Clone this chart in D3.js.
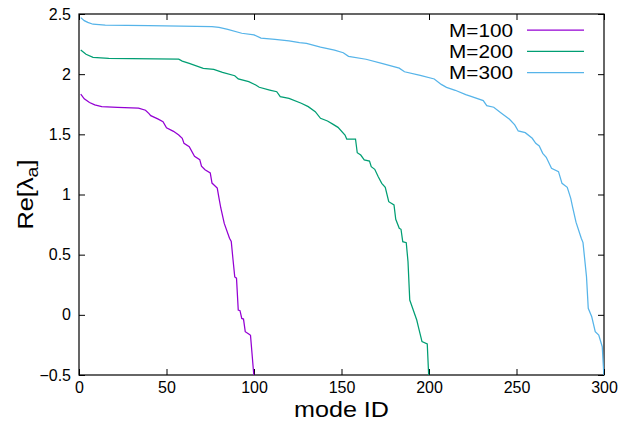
<!DOCTYPE html>
<html>
<head>
<meta charset="utf-8">
<script src="https://cdn.jsdelivr.net/npm/d3@7"></script>
<style>
  html, body { margin: 0; padding: 0; background: #fff; }
  svg { display: block; }
  text { font-family: "Liberation Sans", Arial, sans-serif; fill: #000; }
</style>
</head>
<body>
<svg id="chart" width="634" height="431"></svg>
<script>
// ---------- data (mode ID, Re[lambda_a]) ----------
const seriesNames = ["M=100", "M=200", "M=300"];
const seriesColors = ["#9400d3", "#009e73", "#56b4e9"];

const m100 = [
  [1,1.835],[3,1.795],[6,1.765],[9,1.745],[13,1.730],[22,1.724],[34,1.718],[38,1.700],
  [40,1.672],[41,1.655],[45,1.628],[48,1.605],[50,1.555],[54,1.525],[57,1.495],[59,1.467],
  [60,1.425],[63,1.398],[66,1.318],[69,1.290],[70,1.235],[72,1.206],[75,1.180],[76,1.095],
  [79,1.053],[80,0.970],[81,0.890],[83,0.760],[86,0.636],[87,0.610],[88,0.460],[89,0.315],
  [90,0.305],[91,0.040],[92,0.035],[93,-0.030],[94,-0.035],[95,-0.140],[97,-0.160],
  [98,-0.170],[100,-0.520]
];

const m200 = [
  [1,2.200],[4,2.165],[8,2.140],[17,2.132],[57,2.124],[59,2.109],[63,2.090],[71,2.049],
  [77,2.040],[82,2.015],[89,1.987],[91,1.960],[97,1.938],[101,1.910],[103,1.891],[109,1.868],
  [113,1.854],[115,1.813],[120,1.799],[127,1.758],[131,1.730],[135,1.688],[138,1.633],
  [142,1.611],[145,1.585],[148,1.558],[152,1.494],[153,1.461],[158,1.461],[159,1.347],
  [161,1.328],[163,1.287],[166,1.278],[167,1.231],[169,1.209],[171,1.148],[173,1.093],
  [175,1.060],[177,0.940],[180,0.913],[181,0.794],[183,0.719],[184,0.711],[185,0.608],
  [187,0.600],[188,0.442],[189,0.123],[190,0.082],[193,-0.043],[194,-0.104],[196,-0.223],
  [199,-0.242],[200,-0.560]
];

const m300 = [
  [1,2.470],[3,2.445],[5,2.430],[8,2.415],[15,2.408],[40,2.403],[76,2.395],[80,2.388],
  [85,2.373],[93,2.340],[100,2.327],[104,2.300],[112,2.290],[120,2.276],[126,2.262],
  [130,2.255],[138,2.225],[146,2.200],[151,2.178],[154,2.148],[164,2.124],[173,2.090],
  [183,2.050],[186,2.020],[195,1.990],[203,1.960],[207,1.915],[210,1.890],[215,1.866],
  [221,1.830],[224,1.815],[231,1.780],[233,1.738],[237,1.725],[241,1.680],[246,1.625],
  [249,1.578],[251,1.528],[255,1.514],[259,1.467],[261,1.425],[263,1.403],[265,1.342],
  [267,1.309],[270,1.218],[274,1.190],[276,1.093],[279,1.060],[281,0.968],[282,0.900],
  [284,0.770],[287,0.636],[288,0.600],[290,0.317],[291,0.054],[293,-0.016],[295,-0.140],
  [297,-0.168],[299,-0.265],[300,-0.520]
];

const xTicks = [0, 50, 100, 150, 200, 250, 300];
const yTicks = [-0.5, 0, 0.5, 1, 1.5, 2, 2.5];

(function () {
// ---------- layout ----------
const svg = d3.select("#chart");
const pL = 79, pR = 604, pT = 14, pB = 375;

const x = d3.scaleLinear().domain([0, 300]).range([pL, pR]);
const y = d3.scaleLinear().domain([-0.5, 2.5]).range([pB, pT]);

svg.append("defs").append("clipPath").attr("id", "plotclip")
  .append("rect").attr("x", pL).attr("y", pT)
  .attr("width", pR - pL).attr("height", pB - pT);

// axes (inward ticks, gnuplot style)
const tickLen = 6;
const fmt = d3.format("");

const gx = svg.append("g").attr("transform", `translate(0,${pB})`)
  .call(d3.axisBottom(x).tickValues(xTicks).tickSizeInner(-tickLen).tickSizeOuter(0).tickPadding(7).tickFormat(fmt));
const gxt = svg.append("g").attr("transform", `translate(0,${pT})`)
  .call(d3.axisTop(x).tickValues(xTicks).tickSizeInner(-tickLen).tickSizeOuter(0).tickFormat(""));
const gy = svg.append("g").attr("transform", `translate(${pL},0)`)
  .call(d3.axisLeft(y).tickValues(yTicks).tickSizeInner(-tickLen).tickSizeOuter(0).tickPadding(8).tickFormat(fmt));
const gyr = svg.append("g").attr("transform", `translate(${pR},0)`)
  .call(d3.axisRight(y).tickValues(yTicks).tickSizeInner(-tickLen).tickSizeOuter(0).tickFormat(""));

[gx, gxt, gy, gyr].forEach(g => {
  g.select(".domain").remove();
  g.selectAll(".tick line").attr("stroke", "#000").attr("stroke-width", 1);
  g.selectAll(".tick text").attr("font-size", 16).attr("font-family", "Liberation Sans, Arial, sans-serif").attr("fill", "#000");
});

// border
svg.append("rect")
  .attr("x", pL).attr("y", pT)
  .attr("width", pR - pL).attr("height", pB - pT)
  .attr("fill", "none").attr("stroke", "#000").attr("stroke-width", 1.2);

// curves
const line = d3.line().x(d => x(d[0])).y(d => y(d[1]));
const allSeries = [m100, m200, m300];
svg.append("g").attr("clip-path", "url(#plotclip)")
  .selectAll("path").data(allSeries).join("path")
  .attr("d", line)
  .attr("fill", "none")
  .attr("stroke", (d, i) => seriesColors[i])
  .attr("stroke-width", 1.25)
  .attr("stroke-linejoin", "miter");

// legend
const leg = svg.append("g");
seriesNames.forEach((name, i) => {
  const yy = 30 + i * 21.3;
  leg.append("text").attr("x", 513).attr("y", yy + 6.8)
    .attr("text-anchor", "end").attr("font-size", 19)
    .attr("textLength", 64).attr("lengthAdjust", "spacingAndGlyphs").text(name);
  leg.append("line").attr("x1", 527).attr("x2", 584).attr("y1", yy).attr("y2", yy)
    .attr("stroke", seriesColors[i]).attr("stroke-width", 1.25);
});

// axis titles
svg.append("text").attr("x", (pL + pR) / 2).attr("y", 417)
  .attr("text-anchor", "middle").attr("font-size", 22)
  .attr("textLength", 95).attr("lengthAdjust", "spacingAndGlyphs").text("mode ID");

const yt = svg.append("text")
  .attr("transform", `translate(33,${(pT + pB) / 2}) rotate(-90)`)
  .attr("text-anchor", "middle").attr("font-size", 22)
  .attr("textLength", 70).attr("lengthAdjust", "spacingAndGlyphs");
yt.append("tspan").text("Re[λ");
yt.append("tspan").attr("font-size", 17).attr("dy", 5).text("a");
yt.append("tspan").attr("dy", -5).text("]");
})();
</script>
</body>
</html>
